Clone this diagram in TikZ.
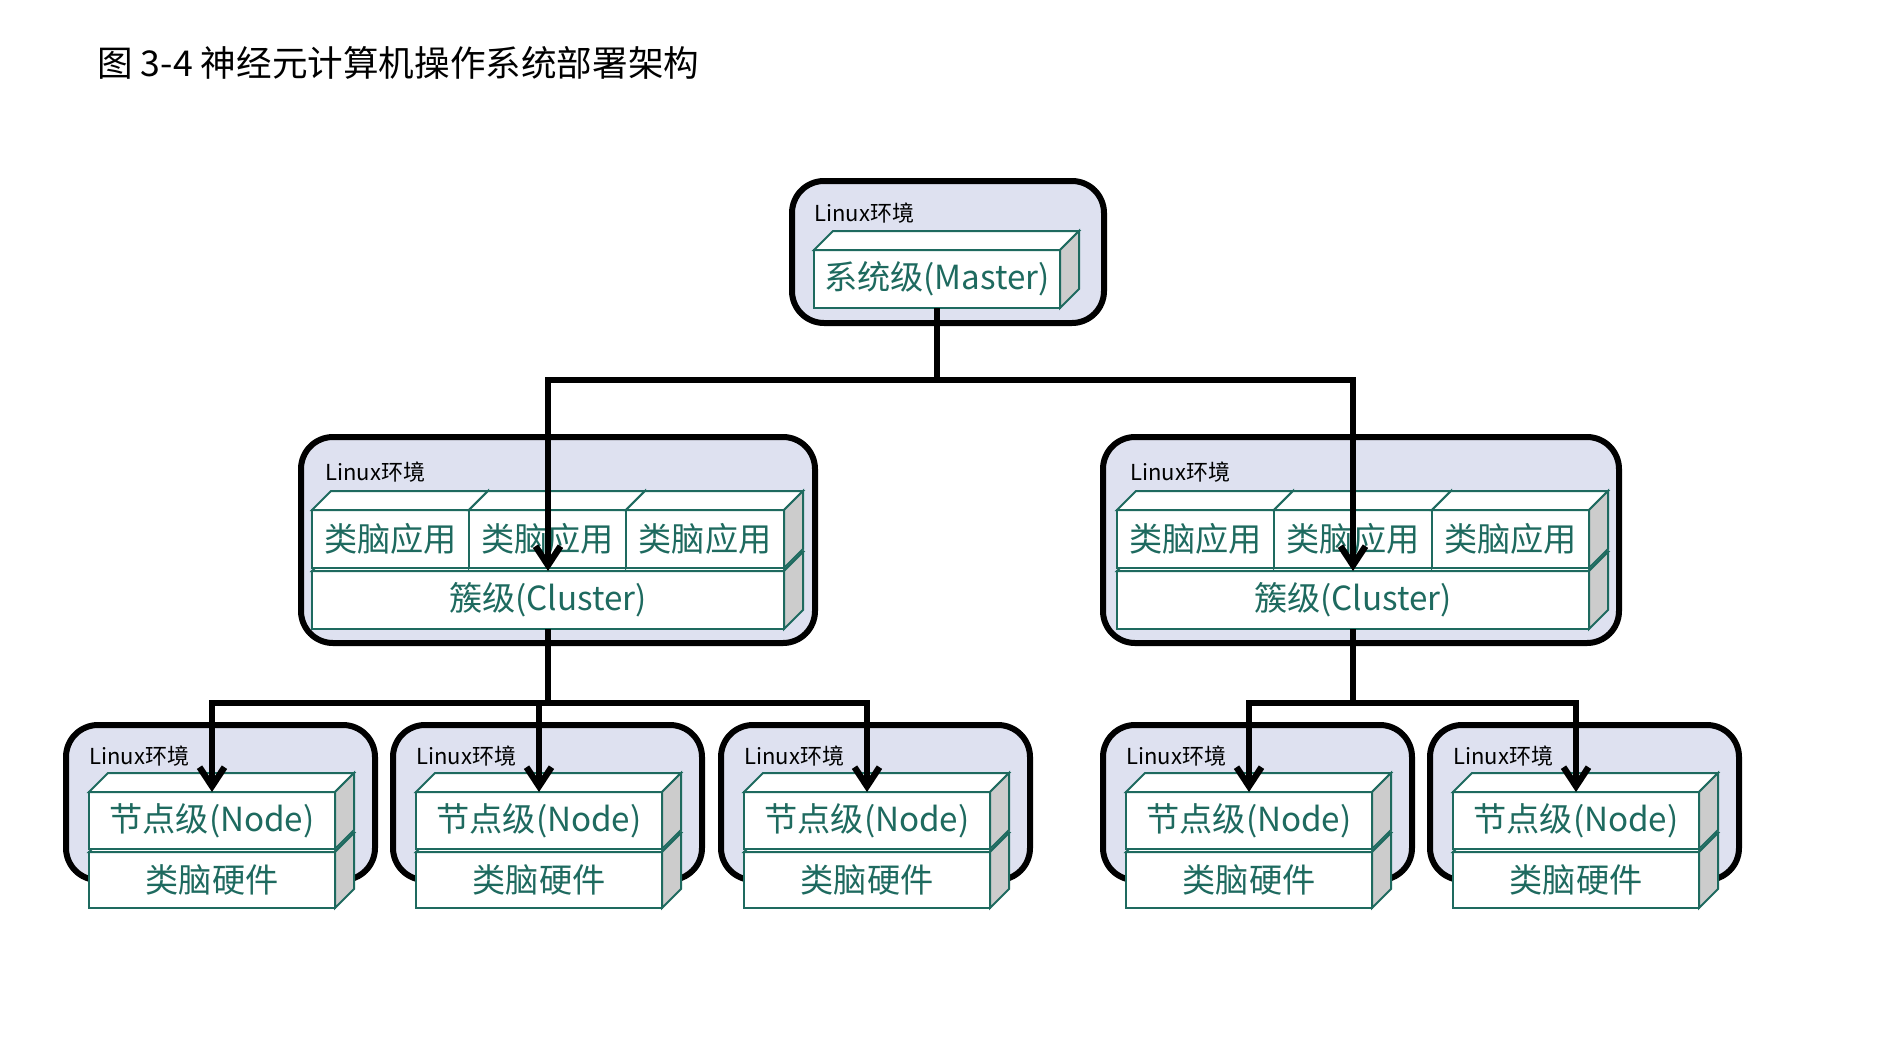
\documentclass[tikz,border=0pt]{standalone}
\usepackage{fontspec}
\setmainfont{Noto Sans CJK SC}
\usetikzlibrary{arrows.meta,calc}
\definecolor{tealline}{HTML}{1E6A5F}
\definecolor{envfill}{HTML}{DEE1F0}
\definecolor{sidegray}{HTML}{CCCCCC}
\tikzset{
  env/.style={draw=black, line width=3pt, fill=envfill, rounded corners=16pt, anchor=north west, inner sep=0pt, outer sep=0pt},
  frontface/.style={draw=tealline, line width=1pt, fill=white, text=tealline, font=\fontsize{16.6}{19}\selectfont, inner sep=0pt, outer sep=0pt, anchor=north west},
  topface/.style={draw=tealline, line width=1pt, fill=white},
  sideface/.style={draw=tealline, line width=1pt, fill=sidegray},
  envlabel/.style={font=\fontsize{11}{12}\selectfont, anchor=west, inner sep=0pt},
  conn/.style={draw=black, line width=3.2pt},
  arr/.style={conn, -{Straight Barb[length=9.5pt,width=12.5pt]}},
}
% #1 name, #2 x, #3 y, #4 width, #5 height, #6 text
\newcommand{\tdbox}[6]{%
  \node[frontface, minimum width=#4*0.5pt, minimum height=#5*0.5pt] (#1) at (#2,#3) {#6};
  \draw[topface] (#1.north west) -- ++(19,-19) -- ([shift={(19,-19)}]#1.north east) -- (#1.north east) -- cycle;
  \draw[sideface] (#1.north east) -- ([shift={(19,-19)}]#1.north east) -- ([shift={(19,-19)}]#1.south east) -- (#1.south east) -- cycle;
}
% node group: #1 index, #2 inner left x
\newcommand{\nodegroup}[2]{%
  \node[env, minimum width=309*0.5pt, minimum height=155*0.5pt] (g#1env) at ({#2-23},725) {};
  \node[envlabel] (g#1lab) at (#2,756) {Linux环境};
  \tdbox{hw#1}{#2}{852}{246}{56}{类脑硬件}
  \tdbox{n#1}{#2}{792}{246}{57}{节点级(Node)}
}
\begin{document}
\begin{tikzpicture}[x=0.5pt,y=-0.5pt]
\useasboundingbox (0,0) rectangle (1902,1045);
\fill[white] (0,0) rectangle (1902,1045);
\node[anchor=west, inner sep=0pt, font=\fontsize{17.8}{20}\selectfont] (title) at (97,63) {图 3-4 神经元计算机操作系统部署架构};

% master
\node[env, minimum width=312*0.5pt, minimum height=142*0.5pt] (menv) at (792,181) {};
\node[envlabel] (mlab) at (814,213) {Linux环境};
\tdbox{m}{814}{250}{246}{58}{系统级(Master)}

% left cluster
\node[env, minimum width=514*0.5pt, minimum height=206*0.5pt] (lenv) at (301,437) {};
\node[envlabel] (llab) at (325,472) {Linux环境};
\tdbox{lcl}{312}{571}{472}{58}{簇级(Cluster)}
\tdbox{la1}{312}{510}{157}{58}{类脑应用}
\tdbox{la2}{469}{510}{157}{58}{类脑应用}
\tdbox{la3}{626}{510}{158}{58}{类脑应用}

% right cluster
\node[env, minimum width=516*0.5pt, minimum height=206*0.5pt] (renv) at (1103,437) {};
\node[envlabel] (rlab) at (1130,472) {Linux环境};
\tdbox{rcl}{1117}{571}{472}{58}{簇级(Cluster)}
\tdbox{ra1}{1117}{510}{157}{58}{类脑应用}
\tdbox{ra2}{1274}{510}{158}{58}{类脑应用}
\tdbox{ra3}{1432}{510}{157}{58}{类脑应用}

% node groups
\nodegroup{1}{89}
\nodegroup{2}{416}
\nodegroup{3}{744}
\nodegroup{4}{1126}
\nodegroup{5}{1453}

% connectors
\path (m.south) ++(0,72) coordinate (mj);
\draw[conn] (m.south) -- (mj);
\draw[arr] (mj) -| (lcl.north);
\draw[arr] (mj) -| (rcl.north);

\path (lcl.south) ++(0,74) coordinate (lj);
\draw[conn] (lcl.south) -- (lj);
\draw[arr] (lj) -| (n1.north);
\draw[arr] (lj) -| (n2.north);
\draw[arr] (lj) -| (n3.north);

\path (rcl.south) ++(0,74) coordinate (rj);
\draw[conn] (rcl.south) -- (rj);
\draw[arr] (rj) -| (n4.north);
\draw[arr] (rj) -| (n5.north);
\end{tikzpicture}
\end{document}
